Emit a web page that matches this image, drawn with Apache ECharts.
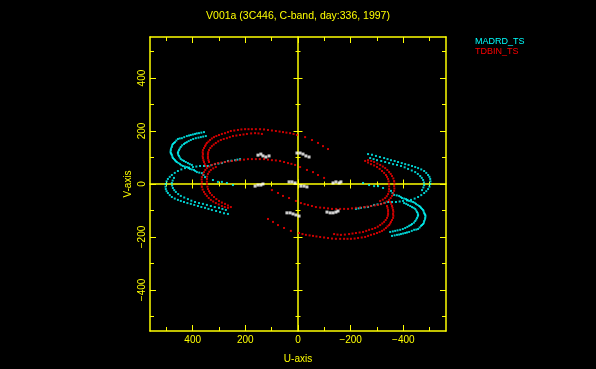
<!DOCTYPE html>
<html><head><meta charset="utf-8">
<script src="https://cdn.jsdelivr.net/npm/echarts@6/dist/echarts.min.js"></script>
<style>html,body{margin:0;padding:0;background:#000}#c{width:596px;height:369px}</style>
</head><body><div id="c"></div>
<script>
// ---- data (u, v) ----
const titleText = 'V001a (3C446, C-band, day:336, 1997)';
const majorTicks = [-400, -200, 0, 200, 400];
const minorTicks = [-500, -300, -100, 100, 300, 500];

// MADRD_TS (cyan)
const madUpperOuter = [[357,196],[367,194],[376,192],[384,191],[391,189],[399,187],[407,185],[414,183],[422,181],[432,177],[441,173],[449,172],[456,170],[462,164],[467,158],[471,155],[475,151],[478,146],[479,140],[482,134],[483,128],[484,122],[483,117],[481,113],[479,109],[477,103],[475,98],[471,94],[467,90],[464,86],[460,83],[454,79],[448,75],[443,71],[437,68],[430,66],[422,64],[416,60],[410,57],[403,55],[395,53],[390,49],[384,45],[375,43],[365,41],[359,34],[353,26],[323,15],[304,8],[289,8],[270,4],[247,-4]];
const madUpperInner = [[350,181],[360,179],[369,177],[378,175],[388,173],[398,170],[407,166],[415,162],[422,158],[428,155],[433,151],[440,146],[445,140],[449,134],[452,128],[455,122],[456,117],[455,111],[452,106],[449,100],[445,94],[439,90],[433,87],[426,83],[418,79],[411,75],[403,72]];
const madLowerOuter = [[220,94],[230,92],[239,90],[253,88],[266,87],[278,83],[289,79],[302,77],[315,75],[329,71],[342,68],[357,68],[372,68],[386,66],[399,64],[414,62],[429,60],[443,55],[456,49],[468,42],[479,34],[487,27],[494,19],[499,10],[502,0],[503,-10],[502,-19],[499,-27],[494,-34],[487,-42],[479,-49],[468,-55],[456,-60],[445,-64],[433,-68],[420,-72],[407,-75],[394,-79],[380,-83],[367,-87],[353,-90],[340,-94],[327,-98],[311,-102],[296,-106],[281,-110],[266,-113]];
const madLowerInner = [[471,23],[476,13],[479,4],[478,-6],[475,-15],[470,-23],[464,-30],[455,-38],[445,-45],[432,-51],[418,-57],[405,-63],[391,-68],[376,-72],[361,-75],[346,-79],[331,-83],[316,-87],[300,-90],[287,-94],[274,-98]];
const madUpperOuterConj = [[-357,-196],[-367,-194],[-376,-192],[-384,-191],[-391,-189],[-399,-187],[-407,-185],[-414,-183],[-422,-181],[-432,-177],[-441,-173],[-449,-172],[-456,-170],[-462,-164],[-467,-158],[-471,-155],[-475,-151],[-478,-146],[-479,-140],[-482,-134],[-483,-128],[-484,-122],[-483,-117],[-481,-113],[-479,-109],[-477,-103],[-475,-98],[-471,-94],[-467,-90],[-464,-86],[-460,-83],[-454,-79],[-448,-75],[-443,-71],[-437,-68],[-430,-66],[-422,-64],[-416,-60],[-410,-57],[-403,-55],[-395,-53],[-390,-49],[-384,-45],[-375,-43],[-365,-41],[-359,-34],[-353,-26],[-323,-15],[-304,-8],[-289,-8],[-270,-4],[-247,4]];
const madUpperInnerConj = [[-350,-181],[-360,-179],[-369,-177],[-378,-175],[-388,-173],[-398,-170],[-407,-166],[-415,-162],[-422,-158],[-428,-155],[-433,-151],[-440,-146],[-445,-140],[-449,-134],[-452,-128],[-455,-122],[-456,-117],[-455,-111],[-452,-106],[-449,-100],[-445,-94],[-439,-90],[-433,-87],[-426,-83],[-418,-79],[-411,-75],[-403,-72]];
const madLowerOuterConj = [[-220,-94],[-230,-92],[-239,-90],[-253,-88],[-266,-87],[-278,-83],[-289,-79],[-302,-77],[-315,-75],[-329,-71],[-342,-68],[-357,-68],[-372,-68],[-386,-66],[-399,-64],[-414,-62],[-429,-60],[-443,-55],[-456,-49],[-468,-42],[-479,-34],[-487,-27],[-494,-19],[-499,-10],[-502,0],[-503,10],[-502,19],[-499,27],[-494,34],[-487,42],[-479,49],[-468,55],[-456,60],[-445,64],[-433,68],[-420,72],[-407,75],[-394,79],[-380,83],[-367,87],[-353,90],[-340,94],[-327,98],[-311,102],[-296,106],[-281,110],[-266,113]];
const madLowerInnerConj = [[-471,-23],[-476,-13],[-479,-4],[-478,6],[-475,15],[-470,23],[-464,30],[-455,38],[-445,45],[-432,51],[-418,57],[-405,63],[-391,68],[-376,72],[-361,75],[-346,79],[-331,83],[-316,87],[-300,90],[-287,94],[-274,98]];

// TDBIN_TS (red)
const tdbUpperOuter = [[-114,132],[-95,143],[-76,155],[-53,166],[-27,177],[4,185],[17,189],[30,192],[44,194],[57,196],[70,198],[84,200],[99,202],[114,204],[129,206],[144,207],[160,207],[175,207],[188,207],[201,207],[215,206],[228,204],[242,202],[255,200],[266,196],[277,192],[289,189],[300,185],[310,181],[319,177],[327,172],[334,166],[340,160],[346,155],[350,149],[353,143],[357,136],[361,128],[362,120],[361,113],[362,105],[361,98],[359,90],[357,83],[354,75],[350,68]];
const tdbUpperInner = [[137,189],[150,191],[163,192],[178,191],[194,189],[207,187],[220,185],[234,183],[247,181],[259,177],[270,173],[282,170],[293,166],[303,161],[312,155],[320,149],[327,143],[333,136],[338,128],[341,120],[342,113],[342,105],[342,98],[340,90],[338,83]];
const tdbLowerOuter = [[-99,23],[-76,34],[-57,45],[-34,53],[-8,64],[11,72],[25,76],[38,79],[53,83],[68,87],[84,89],[99,90],[114,92],[129,94],[145,94],[160,94],[175,94],[190,94],[205,92],[220,90],[236,89],[251,87],[264,85],[277,83],[291,81],[304,79],[316,76],[327,72],[337,66],[346,60],[352,53],[357,45],[361,36],[365,26],[366,17],[365,8],[366,-2],[365,-11],[362,-21],[357,-30],[352,-38],[346,-45],[339,-53],[331,-60],[322,-66],[312,-72],[301,-77],[289,-83],[278,-87],[266,-90]];
const tdbLowerInner = [[312,64],[322,59],[331,53],[337,46],[342,38],[345,28],[346,19],[346,9],[346,0],[344,-10],[342,-19],[338,-27],[334,-34],[327,-42],[319,-49],[310,-57],[300,-64],[289,-70],[277,-75],[266,-81],[255,-87]];
const tdbUpperOuterConj = [[114,-132],[95,-143],[76,-155],[53,-166],[27,-177],[-4,-185],[-17,-189],[-30,-192],[-44,-194],[-57,-196],[-70,-198],[-84,-200],[-99,-202],[-114,-204],[-129,-206],[-144,-207],[-160,-207],[-175,-207],[-188,-207],[-201,-207],[-215,-206],[-228,-204],[-242,-202],[-255,-200],[-266,-196],[-277,-192],[-289,-189],[-300,-185],[-310,-181],[-319,-177],[-327,-172],[-334,-166],[-340,-160],[-346,-155],[-350,-149],[-353,-143],[-357,-136],[-361,-128],[-362,-120],[-361,-113],[-362,-105],[-361,-98],[-359,-90],[-357,-83],[-354,-75],[-350,-68]];
const tdbUpperInnerConj = [[-137,-189],[-150,-191],[-163,-192],[-178,-191],[-194,-189],[-207,-187],[-220,-185],[-234,-183],[-247,-181],[-259,-177],[-270,-173],[-282,-170],[-293,-166],[-303,-161],[-312,-155],[-320,-149],[-327,-143],[-333,-136],[-338,-128],[-341,-120],[-342,-113],[-342,-105],[-342,-98],[-340,-90],[-338,-83]];
const tdbLowerOuterConj = [[99,-23],[76,-34],[57,-45],[34,-53],[8,-64],[-11,-72],[-25,-76],[-38,-79],[-53,-83],[-68,-87],[-84,-89],[-99,-90],[-114,-92],[-129,-94],[-145,-94],[-160,-94],[-175,-94],[-190,-94],[-205,-92],[-220,-90],[-236,-89],[-251,-87],[-264,-85],[-277,-83],[-291,-81],[-304,-79],[-316,-76],[-327,-72],[-337,-66],[-346,-60],[-352,-53],[-357,-45],[-361,-36],[-365,-26],[-366,-17],[-365,-8],[-366,2],[-365,11],[-362,21],[-357,30],[-352,38],[-346,45],[-339,53],[-331,60],[-322,66],[-312,72],[-301,77],[-289,83],[-278,87],[-266,90]];
const tdbLowerInnerConj = [[-312,-64],[-322,-59],[-331,-53],[-337,-46],[-342,-38],[-345,-28],[-346,-19],[-346,-9],[-346,0],[-344,10],[-342,19],[-338,27],[-334,34],[-327,42],[-319,49],[-310,57],[-300,64],[-289,70],[-277,75],[-266,81],[-255,87]];

// short baseline points (white)
const shortPts = [[152,109],[141,113],[133,106],[122,102],[110,106],[4,117],[-8,117],[-19,113],[-30,106],[-42,102],[34,8],[23,8],[11,4],[-11,-8],[-23,-8],[-34,-11],[163,-8],[152,-4],[141,-4],[133,0],[-133,4],[-144,8],[-156,4],[-163,8],[42,-109],[30,-109],[19,-113],[8,-117],[-4,-121],[-110,-106],[-122,-109],[-133,-109],[-144,-106],[-152,-102]];

// ---- chart ----
const Y = '#ffff00';
const FONT = 'Liberation Sans';
const XR = 562, YR = 555;
const fmt = v => String(v).replace('-', '\u2212');

function ax(range, extra) {
  return Object.assign({
    type: 'value', min: -range, max: range,
    splitLine: {show: false},
    axisLabel: {show: false},
    axisTick: {show: false},
    axisLine: {show: false, onZero: false},
    nameMoveOverlap: false
  }, extra);
}
function ticks(vals, len, inside) {
  return {show: true, inside: inside, length: len, customValues: vals, lineStyle: {color: Y, width: 1}};
}
const line = {show: true, onZero: false, lineStyle: {color: Y, width: 1.5}};

const xAxis = [
  ax(XR, {inverse: true, position: 'bottom', axisLine: line, axisTick: ticks(majorTicks, 6, true),
    axisLabel: {show: true, customValues: majorTicks, color: Y, fontFamily: FONT, fontSize: 10, margin: 4, formatter: fmt},
    name: 'U-axis', nameLocation: 'middle', nameGap: 23, nameTextStyle: {color: Y, fontFamily: FONT, fontSize: 10}}),
  ax(XR, {inverse: true, position: 'bottom', axisTick: ticks(minorTicks, 4, true)}),
  ax(XR, {inverse: true, position: 'top', axisLine: line, axisTick: ticks(majorTicks, 6, true)}),
  ax(XR, {inverse: true, position: 'top', axisTick: ticks(minorTicks, 4, true)}),
  ax(XR, {inverse: true, position: 'bottom', axisLine: {show: true, onZero: true, onZeroAxisIndex: 0, lineStyle: {color: Y, width: 1.5}}, axisTick: ticks(majorTicks, 4.5, true)}),
  ax(XR, {inverse: true, position: 'bottom', axisLine: {show: false, onZero: true, onZeroAxisIndex: 0}, axisTick: ticks(majorTicks, 4.5, false)}),
  ax(XR, {inverse: true, position: 'bottom', axisLine: {show: false, onZero: true, onZeroAxisIndex: 0}, axisTick: ticks(minorTicks, 2.5, true)}),
  ax(XR, {inverse: true, position: 'bottom', axisLine: {show: false, onZero: true, onZeroAxisIndex: 0}, axisTick: ticks(minorTicks, 2.5, false)})
];
const yAxis = [
  ax(YR, {position: 'left', axisLine: line, axisTick: ticks(majorTicks, 6, true),
    axisLabel: {show: true, customValues: majorTicks, rotate: 90, color: Y, fontFamily: FONT, fontSize: 10, margin: 3, formatter: fmt},
    name: 'V-axis', nameLocation: 'middle', nameGap: 17, nameRotate: 90, nameTextStyle: {color: Y, fontFamily: FONT, fontSize: 10}}),
  ax(YR, {position: 'left', axisTick: ticks(minorTicks, 4, true)}),
  ax(YR, {position: 'right', axisLine: line, axisTick: ticks(majorTicks, 6, true)}),
  ax(YR, {position: 'right', axisTick: ticks(minorTicks, 4, true)}),
  ax(YR, {position: 'left', axisLine: {show: true, onZero: true, onZeroAxisIndex: 0, lineStyle: {color: Y, width: 1.5}}, axisTick: ticks(majorTicks, 4.5, true)}),
  ax(YR, {position: 'left', axisLine: {show: false, onZero: true, onZeroAxisIndex: 0}, axisTick: ticks(majorTicks, 4.5, false)}),
  ax(YR, {position: 'left', axisLine: {show: false, onZero: true, onZeroAxisIndex: 0}, axisTick: ticks(minorTicks, 2.5, true)}),
  ax(YR, {position: 'left', axisLine: {show: false, onZero: true, onZeroAxisIndex: 0}, axisTick: ticks(minorTicks, 2.5, false)})
];

const cyanData = [].concat(madUpperOuter, madUpperInner, madLowerOuter, madLowerInner,
  madUpperOuterConj, madUpperInnerConj, madLowerOuterConj, madLowerInnerConj);
const redData = [].concat(tdbUpperOuter, tdbUpperInner, tdbLowerOuter, tdbLowerInner,
  tdbUpperOuterConj, tdbUpperInnerConj, tdbLowerOuterConj, tdbLowerInnerConj);

const chart = echarts.init(document.getElementById('c'), null, {renderer: 'canvas'});
chart.setOption({
  backgroundColor: '#000',
  animation: false,
  title: {text: titleText, left: 'center', top: 11, padding: 0,
    textStyle: {color: Y, fontFamily: FONT, fontSize: 10.5, fontWeight: 'normal'}},
  legend: {orient: 'vertical', left: 470, top: 37, padding: 0, itemGap: 0, itemWidth: 0, itemHeight: 10,
    icon: 'none', selectedMode: false,
    textStyle: {fontFamily: FONT, fontSize: 9, lineHeight: 10},
    data: [{name: 'MADRD_TS', textStyle: {color: '#00ffff'}}, {name: 'TDBIN_TS', textStyle: {color: '#ff0000'}}]},
  grid: {left: 150, right: 150, top: 37, bottom: 38, containLabel: false},
  xAxis: xAxis,
  yAxis: yAxis,
  series: [
    {name: 'MADRD_TS', type: 'scatter', symbol: 'rect', symbolSize: 2, silent: true,
      itemStyle: {color: '#00ffff'}, data: cyanData},
    {name: 'TDBIN_TS', type: 'scatter', symbol: 'rect', symbolSize: 2, silent: true,
      itemStyle: {color: '#ff0000'}, data: redData},
    {name: 'short', type: 'scatter', symbol: 'rect', symbolSize: 3, silent: true,
      itemStyle: {color: '#ffffff'}, data: shortPts}
  ]
});
</script></body></html>
